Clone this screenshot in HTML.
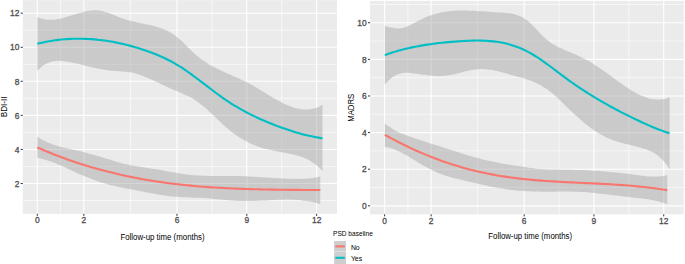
<!DOCTYPE html>
<html><head><meta charset="utf-8"><style>
html,body{margin:0;padding:0;background:#fff;}
body{width:685px;height:264px;overflow:hidden;}
svg{display:block;}
text{font-family:"Liberation Sans",sans-serif;}
.tk{font-size:8.4px;fill:#4d4d4d;font-weight:normal;stroke:#4d4d4d;stroke-width:0.3px;}
.ti{font-size:8.4px;fill:#000;}
.lt{font-size:7.2px;fill:#000;}
.lg{font-size:6.9px;fill:#000;}
</style></head><body>
<svg width="685" height="264" viewBox="0 0 685 264">
<rect x="22.80" y="0.15" width="314.20" height="213.65" fill="#ebebeb"/>
<line x1="22.80" x2="337.00" y1="200.52" y2="200.52" stroke="#fff" stroke-width="0.6"/>
<line x1="22.80" x2="337.00" y1="166.46" y2="166.46" stroke="#fff" stroke-width="0.6"/>
<line x1="22.80" x2="337.00" y1="132.40" y2="132.40" stroke="#fff" stroke-width="0.6"/>
<line x1="22.80" x2="337.00" y1="98.34" y2="98.34" stroke="#fff" stroke-width="0.6"/>
<line x1="22.80" x2="337.00" y1="64.28" y2="64.28" stroke="#fff" stroke-width="0.6"/>
<line x1="22.80" x2="337.00" y1="30.22" y2="30.22" stroke="#fff" stroke-width="0.6"/>
<line x1="60.58" x2="60.58" y1="0.15" y2="213.80" stroke="#fff" stroke-width="0.6"/>
<line x1="130.42" x2="130.42" y1="0.15" y2="213.80" stroke="#fff" stroke-width="0.6"/>
<line x1="211.90" x2="211.90" y1="0.15" y2="213.80" stroke="#fff" stroke-width="0.6"/>
<line x1="281.74" x2="281.74" y1="0.15" y2="213.80" stroke="#fff" stroke-width="0.6"/>
<line x1="22.80" x2="337.00" y1="183.49" y2="183.49" stroke="#fff" stroke-width="1.1"/>
<line x1="22.80" x2="337.00" y1="149.43" y2="149.43" stroke="#fff" stroke-width="1.1"/>
<line x1="22.80" x2="337.00" y1="115.37" y2="115.37" stroke="#fff" stroke-width="1.1"/>
<line x1="22.80" x2="337.00" y1="81.31" y2="81.31" stroke="#fff" stroke-width="1.1"/>
<line x1="22.80" x2="337.00" y1="47.25" y2="47.25" stroke="#fff" stroke-width="1.1"/>
<line x1="22.80" x2="337.00" y1="13.19" y2="13.19" stroke="#fff" stroke-width="1.1"/>
<line x1="37.30" x2="37.30" y1="0.15" y2="213.80" stroke="#fff" stroke-width="1.1"/>
<line x1="83.86" x2="83.86" y1="0.15" y2="213.80" stroke="#fff" stroke-width="1.1"/>
<line x1="176.98" x2="176.98" y1="0.15" y2="213.80" stroke="#fff" stroke-width="1.1"/>
<line x1="246.82" x2="246.82" y1="0.15" y2="213.80" stroke="#fff" stroke-width="1.1"/>
<line x1="316.66" x2="316.66" y1="0.15" y2="213.80" stroke="#fff" stroke-width="1.1"/>
<path d="M37.30,136.58 C37.80,136.91 39.31,137.94 40.31,138.56 C41.31,139.17 42.32,139.74 43.32,140.29 C44.32,140.83 45.33,141.32 46.33,141.80 C47.34,142.27 48.34,142.70 49.34,143.12 C50.35,143.53 51.35,143.91 52.35,144.27 C53.36,144.63 54.36,144.96 55.36,145.27 C56.37,145.59 57.37,145.88 58.37,146.16 C59.38,146.45 60.38,146.71 61.39,146.96 C62.39,147.22 63.39,147.46 64.40,147.69 C65.40,147.93 66.40,148.15 67.41,148.38 C68.41,148.61 69.41,148.83 70.42,149.05 C71.42,149.27 72.42,149.50 73.43,149.73 C74.43,149.95 75.43,150.18 76.44,150.42 C77.44,150.65 78.45,150.88 79.45,151.12 C80.45,151.36 81.46,151.60 82.46,151.85 C83.46,152.10 84.47,152.35 85.47,152.60 C86.47,152.86 87.48,153.12 88.48,153.38 C89.48,153.65 90.49,153.92 91.49,154.19 C92.50,154.47 93.50,154.75 94.50,155.03 C95.51,155.32 96.51,155.61 97.51,155.91 C98.52,156.21 99.52,156.51 100.52,156.82 C101.53,157.13 102.53,157.44 103.53,157.75 C104.54,158.06 105.54,158.38 106.54,158.69 C107.55,159.00 108.55,159.31 109.56,159.62 C110.56,159.93 111.56,160.24 112.57,160.55 C113.57,160.85 114.57,161.15 115.58,161.45 C116.58,161.74 117.58,162.03 118.59,162.31 C119.59,162.59 120.59,162.87 121.60,163.13 C122.60,163.39 123.60,163.65 124.61,163.89 C125.61,164.14 126.62,164.37 127.62,164.59 C128.62,164.81 129.63,165.02 130.63,165.22 C131.63,165.42 132.64,165.61 133.64,165.79 C134.64,165.98 135.65,166.15 136.65,166.32 C137.65,166.49 138.66,166.66 139.66,166.82 C140.67,166.98 141.67,167.13 142.67,167.28 C143.68,167.44 144.68,167.59 145.68,167.74 C146.69,167.89 147.69,168.04 148.69,168.19 C149.70,168.34 150.70,168.49 151.70,168.64 C152.71,168.80 153.71,168.95 154.71,169.11 C155.72,169.27 156.72,169.44 157.73,169.61 C158.73,169.78 159.73,169.95 160.74,170.12 C161.74,170.30 162.74,170.48 163.75,170.65 C164.75,170.83 165.75,171.01 166.76,171.19 C167.76,171.37 168.76,171.55 169.77,171.73 C170.77,171.91 171.78,172.08 172.78,172.26 C173.78,172.43 174.79,172.61 175.79,172.77 C176.79,172.94 177.80,173.11 178.80,173.27 C179.80,173.43 180.81,173.59 181.81,173.74 C182.81,173.89 183.82,174.03 184.82,174.17 C185.82,174.31 186.83,174.44 187.83,174.56 C188.84,174.68 189.84,174.80 190.84,174.90 C191.85,175.01 192.85,175.11 193.85,175.19 C194.86,175.28 195.86,175.35 196.86,175.42 C197.87,175.49 198.87,175.55 199.87,175.60 C200.88,175.65 201.88,175.69 202.89,175.73 C203.89,175.77 204.89,175.80 205.90,175.82 C206.90,175.85 207.90,175.87 208.91,175.88 C209.91,175.90 210.91,175.91 211.92,175.92 C212.92,175.92 213.92,175.93 214.93,175.93 C215.93,175.93 216.93,175.93 217.94,175.93 C218.94,175.93 219.95,175.92 220.95,175.92 C221.95,175.92 222.96,175.92 223.96,175.91 C224.96,175.91 225.97,175.91 226.97,175.91 C227.97,175.91 228.98,175.92 229.98,175.92 C230.98,175.93 231.99,175.94 232.99,175.95 C234.00,175.97 235.00,175.99 236.00,176.01 C237.01,176.03 238.01,176.06 239.01,176.09 C240.02,176.12 241.02,176.16 242.02,176.20 C243.03,176.24 244.03,176.28 245.03,176.33 C246.04,176.37 247.04,176.42 248.04,176.48 C249.05,176.53 250.05,176.58 251.06,176.64 C252.06,176.70 253.06,176.76 254.07,176.82 C255.07,176.88 256.07,176.94 257.08,177.01 C258.08,177.07 259.08,177.13 260.09,177.20 C261.09,177.26 262.09,177.33 263.10,177.40 C264.10,177.46 265.10,177.53 266.11,177.59 C267.11,177.66 268.12,177.72 269.12,177.79 C270.12,177.85 271.13,177.91 272.13,177.98 C273.13,178.04 274.14,178.10 275.14,178.15 C276.14,178.21 277.15,178.27 278.15,178.32 C279.15,178.37 280.16,178.42 281.16,178.47 C282.17,178.52 283.17,178.56 284.17,178.60 C285.18,178.64 286.18,178.68 287.18,178.71 C288.19,178.75 289.19,178.78 290.19,178.80 C291.20,178.82 292.20,178.84 293.20,178.86 C294.21,178.87 295.21,178.88 296.21,178.88 C297.22,178.89 298.22,178.89 299.23,178.87 C300.23,178.86 301.23,178.84 302.24,178.81 C303.24,178.77 304.24,178.73 305.25,178.67 C306.25,178.62 307.25,178.55 308.26,178.46 C309.26,178.37 310.26,178.27 311.27,178.14 C312.27,178.02 313.28,177.88 314.28,177.72 C315.28,177.55 316.29,177.37 317.29,177.16 C318.29,176.95 319.80,176.58 320.30,176.47 L320.30,204.08 C319.80,203.93 318.29,203.47 317.29,203.19 C316.29,202.91 315.28,202.66 314.28,202.42 C313.28,202.18 312.27,201.96 311.27,201.76 C310.26,201.56 309.26,201.37 308.26,201.20 C307.25,201.04 306.25,200.88 305.25,200.75 C304.24,200.61 303.24,200.48 302.24,200.38 C301.23,200.27 300.23,200.17 299.23,200.09 C298.22,200.00 297.22,199.94 296.21,199.88 C295.21,199.82 294.21,199.77 293.20,199.73 C292.20,199.70 291.20,199.67 290.19,199.65 C289.19,199.63 288.19,199.63 287.18,199.62 C286.18,199.62 285.18,199.63 284.17,199.65 C283.17,199.66 282.17,199.68 281.16,199.71 C280.16,199.73 279.15,199.77 278.15,199.80 C277.15,199.84 276.14,199.88 275.14,199.93 C274.14,199.97 273.13,200.02 272.13,200.07 C271.13,200.12 270.12,200.17 269.12,200.22 C268.12,200.28 267.11,200.33 266.11,200.38 C265.10,200.44 264.10,200.49 263.10,200.54 C262.09,200.59 261.09,200.65 260.09,200.69 C259.08,200.74 258.08,200.79 257.08,200.83 C256.07,200.87 255.07,200.91 254.07,200.95 C253.06,200.98 252.06,201.01 251.06,201.03 C250.05,201.05 249.05,201.07 248.04,201.08 C247.04,201.09 246.04,201.09 245.03,201.09 C244.03,201.08 243.03,201.07 242.02,201.04 C241.02,201.02 240.02,200.98 239.01,200.94 C238.01,200.90 237.01,200.84 236.00,200.78 C235.00,200.72 234.00,200.65 232.99,200.58 C231.99,200.50 230.98,200.42 229.98,200.33 C228.98,200.25 227.97,200.15 226.97,200.06 C225.97,199.97 224.96,199.87 223.96,199.77 C222.96,199.67 221.95,199.57 220.95,199.48 C219.95,199.38 218.94,199.28 217.94,199.18 C216.93,199.09 215.93,198.99 214.93,198.90 C213.92,198.81 212.92,198.72 211.92,198.64 C210.91,198.56 209.91,198.49 208.91,198.42 C207.90,198.35 206.90,198.29 205.90,198.23 C204.89,198.17 203.89,198.12 202.89,198.07 C201.88,198.02 200.88,197.98 199.87,197.93 C198.87,197.89 197.87,197.85 196.86,197.81 C195.86,197.77 194.86,197.73 193.85,197.69 C192.85,197.65 191.85,197.62 190.84,197.58 C189.84,197.54 188.84,197.50 187.83,197.45 C186.83,197.41 185.82,197.36 184.82,197.31 C183.82,197.26 182.81,197.21 181.81,197.15 C180.81,197.10 179.80,197.03 178.80,196.96 C177.80,196.90 176.79,196.82 175.79,196.74 C174.79,196.66 173.78,196.57 172.78,196.47 C171.78,196.37 170.77,196.27 169.77,196.15 C168.76,196.04 167.76,195.91 166.76,195.78 C165.75,195.65 164.75,195.51 163.75,195.36 C162.74,195.21 161.74,195.06 160.74,194.90 C159.73,194.74 158.73,194.57 157.73,194.40 C156.72,194.22 155.72,194.05 154.71,193.87 C153.71,193.69 152.71,193.50 151.70,193.31 C150.70,193.13 149.70,192.93 148.69,192.74 C147.69,192.55 146.69,192.36 145.68,192.16 C144.68,191.97 143.68,191.77 142.67,191.58 C141.67,191.38 140.67,191.19 139.66,191.00 C138.66,190.80 137.65,190.61 136.65,190.42 C135.65,190.23 134.64,190.05 133.64,189.86 C132.64,189.67 131.63,189.48 130.63,189.30 C129.63,189.11 128.62,188.92 127.62,188.73 C126.62,188.54 125.61,188.34 124.61,188.15 C123.60,187.95 122.60,187.75 121.60,187.54 C120.59,187.34 119.59,187.13 118.59,186.91 C117.58,186.70 116.58,186.48 115.58,186.25 C114.57,186.02 113.57,185.78 112.57,185.54 C111.56,185.29 110.56,185.04 109.56,184.78 C108.55,184.52 107.55,184.24 106.54,183.96 C105.54,183.68 104.54,183.38 103.53,183.08 C102.53,182.78 101.53,182.46 100.52,182.14 C99.52,181.82 98.52,181.48 97.51,181.14 C96.51,180.80 95.51,180.44 94.50,180.08 C93.50,179.72 92.50,179.35 91.49,178.97 C90.49,178.59 89.48,178.20 88.48,177.81 C87.48,177.41 86.47,177.00 85.47,176.59 C84.47,176.18 83.46,175.76 82.46,175.33 C81.46,174.90 80.45,174.46 79.45,174.01 C78.45,173.57 77.44,173.12 76.44,172.66 C75.43,172.20 74.43,171.73 73.43,171.27 C72.42,170.80 71.42,170.33 70.42,169.86 C69.41,169.39 68.41,168.92 67.41,168.46 C66.40,167.99 65.40,167.52 64.40,167.07 C63.39,166.61 62.39,166.15 61.39,165.71 C60.38,165.27 59.38,164.83 58.37,164.40 C57.37,163.98 56.37,163.56 55.36,163.16 C54.36,162.76 53.36,162.38 52.35,162.01 C51.35,161.64 50.35,161.28 49.34,160.95 C48.34,160.61 47.34,160.30 46.33,160.01 C45.33,159.71 44.32,159.44 43.32,159.20 C42.32,158.95 41.31,158.73 40.31,158.54 C39.31,158.34 37.80,158.13 37.30,158.04 Z" fill="#999999" fill-opacity="0.4"/>
<path d="M37.30,17.03 C37.80,17.24 39.30,17.92 40.30,18.26 C41.30,18.61 42.30,18.89 43.30,19.12 C44.30,19.35 45.31,19.52 46.31,19.64 C47.31,19.76 48.31,19.83 49.31,19.85 C50.31,19.88 51.31,19.86 52.31,19.80 C53.31,19.74 54.31,19.64 55.31,19.51 C56.31,19.38 57.31,19.22 58.31,19.03 C59.32,18.84 60.32,18.61 61.32,18.38 C62.32,18.14 63.32,17.87 64.32,17.60 C65.32,17.32 66.32,17.02 67.32,16.72 C68.32,16.42 69.32,16.10 70.32,15.78 C71.32,15.47 72.32,15.14 73.33,14.82 C74.33,14.50 75.33,14.18 76.33,13.87 C77.33,13.56 78.33,13.25 79.33,12.96 C80.33,12.67 81.33,12.39 82.33,12.13 C83.33,11.87 84.33,11.62 85.33,11.41 C86.33,11.19 87.34,11.00 88.34,10.84 C89.34,10.68 90.34,10.54 91.34,10.45 C92.34,10.35 93.34,10.29 94.34,10.27 C95.34,10.26 96.34,10.28 97.34,10.35 C98.34,10.43 99.34,10.55 100.34,10.72 C101.34,10.89 102.35,11.12 103.35,11.38 C104.35,11.64 105.35,11.96 106.35,12.29 C107.35,12.62 108.35,12.99 109.35,13.37 C110.35,13.74 111.35,14.15 112.35,14.55 C113.35,14.95 114.35,15.37 115.35,15.77 C116.36,16.17 117.36,16.57 118.36,16.95 C119.36,17.33 120.36,17.69 121.36,18.04 C122.36,18.39 123.36,18.72 124.36,19.04 C125.36,19.36 126.36,19.66 127.36,19.95 C128.36,20.24 129.36,20.52 130.37,20.79 C131.37,21.05 132.37,21.31 133.37,21.56 C134.37,21.80 135.37,22.04 136.37,22.27 C137.37,22.50 138.37,22.71 139.37,22.93 C140.37,23.14 141.37,23.35 142.37,23.55 C143.37,23.75 144.38,23.95 145.38,24.15 C146.38,24.35 147.38,24.55 148.38,24.76 C149.38,24.97 150.38,25.19 151.38,25.42 C152.38,25.64 153.38,25.88 154.38,26.14 C155.38,26.40 156.38,26.66 157.38,26.96 C158.38,27.26 159.39,27.57 160.39,27.92 C161.39,28.26 162.39,28.63 163.39,29.03 C164.39,29.44 165.39,29.87 166.39,30.34 C167.39,30.82 168.39,31.32 169.39,31.88 C170.39,32.43 171.39,33.02 172.39,33.67 C173.40,34.31 174.40,35.00 175.40,35.74 C176.40,36.48 177.40,37.28 178.40,38.13 C179.40,38.98 180.40,39.89 181.40,40.82 C182.40,41.76 183.40,42.74 184.40,43.73 C185.40,44.71 186.40,45.74 187.41,46.74 C188.41,47.74 189.41,48.76 190.41,49.74 C191.41,50.73 192.41,51.71 193.41,52.64 C194.41,53.57 195.41,54.47 196.41,55.32 C197.41,56.17 198.41,56.98 199.41,57.76 C200.41,58.54 201.42,59.28 202.42,59.99 C203.42,60.70 204.42,61.37 205.42,62.02 C206.42,62.68 207.42,63.30 208.42,63.90 C209.42,64.50 210.42,65.07 211.42,65.63 C212.42,66.19 213.42,66.73 214.42,67.26 C215.42,67.78 216.43,68.29 217.43,68.79 C218.43,69.29 219.43,69.77 220.43,70.25 C221.43,70.73 222.43,71.19 223.43,71.65 C224.43,72.11 225.43,72.56 226.43,73.00 C227.43,73.45 228.43,73.89 229.43,74.33 C230.44,74.77 231.44,75.21 232.44,75.64 C233.44,76.08 234.44,76.52 235.44,76.96 C236.44,77.41 237.44,77.85 238.44,78.30 C239.44,78.76 240.44,79.21 241.44,79.68 C242.44,80.15 243.44,80.62 244.45,81.11 C245.45,81.59 246.45,82.09 247.45,82.60 C248.45,83.11 249.45,83.64 250.45,84.18 C251.45,84.72 252.45,85.28 253.45,85.85 C254.45,86.42 255.45,87.00 256.45,87.59 C257.45,88.18 258.46,88.79 259.46,89.39 C260.46,90.00 261.46,90.61 262.46,91.22 C263.46,91.84 264.46,92.46 265.46,93.07 C266.46,93.69 267.46,94.31 268.46,94.92 C269.46,95.53 270.46,96.14 271.46,96.74 C272.46,97.34 273.47,97.93 274.47,98.51 C275.47,99.10 276.47,99.67 277.47,100.23 C278.47,100.78 279.47,101.33 280.47,101.86 C281.47,102.38 282.47,102.89 283.47,103.38 C284.47,103.87 285.47,104.34 286.47,104.78 C287.48,105.23 288.48,105.65 289.48,106.05 C290.48,106.44 291.48,106.81 292.48,107.14 C293.48,107.48 294.48,107.79 295.48,108.06 C296.48,108.33 297.48,108.57 298.48,108.77 C299.48,108.97 300.48,109.14 301.49,109.26 C302.49,109.39 303.49,109.48 304.49,109.52 C305.49,109.56 306.49,109.56 307.49,109.50 C308.49,109.45 309.49,109.36 310.49,109.21 C311.49,109.07 312.49,108.87 313.49,108.62 C314.49,108.37 315.50,108.07 316.50,107.71 C317.50,107.35 318.50,106.93 319.50,106.46 C320.50,105.98 322.00,105.11 322.50,104.84 L322.50,171.12 C322.00,170.60 320.50,168.93 319.50,167.95 C318.50,166.96 317.50,166.06 316.50,165.22 C315.50,164.38 314.49,163.62 313.49,162.90 C312.49,162.19 311.49,161.55 310.49,160.95 C309.49,160.35 308.49,159.81 307.49,159.31 C306.49,158.81 305.49,158.36 304.49,157.94 C303.49,157.53 302.49,157.15 301.49,156.80 C300.48,156.46 299.48,156.14 298.48,155.85 C297.48,155.55 296.48,155.29 295.48,155.03 C294.48,154.78 293.48,154.54 292.48,154.31 C291.48,154.08 290.48,153.87 289.48,153.66 C288.48,153.46 287.48,153.26 286.47,153.07 C285.47,152.88 284.47,152.69 283.47,152.51 C282.47,152.32 281.47,152.15 280.47,151.96 C279.47,151.78 278.47,151.60 277.47,151.42 C276.47,151.23 275.47,151.05 274.47,150.85 C273.47,150.66 272.46,150.46 271.46,150.25 C270.46,150.04 269.46,149.82 268.46,149.59 C267.46,149.35 266.46,149.11 265.46,148.85 C264.46,148.58 263.46,148.31 262.46,148.01 C261.46,147.71 260.46,147.40 259.46,147.06 C258.46,146.73 257.45,146.37 256.45,145.99 C255.45,145.61 254.45,145.21 253.45,144.78 C252.45,144.36 251.45,143.91 250.45,143.44 C249.45,142.98 248.45,142.48 247.45,141.97 C246.45,141.45 245.45,140.92 244.45,140.35 C243.44,139.79 242.44,139.21 241.44,138.60 C240.44,137.99 239.44,137.36 238.44,136.70 C237.44,136.04 236.44,135.36 235.44,134.65 C234.44,133.94 233.44,133.21 232.44,132.45 C231.44,131.69 230.44,130.90 229.43,130.09 C228.43,129.28 227.43,128.45 226.43,127.58 C225.43,126.72 224.43,125.83 223.43,124.92 C222.43,124.01 221.43,123.07 220.43,122.12 C219.43,121.18 218.43,120.21 217.43,119.25 C216.43,118.29 215.42,117.31 214.42,116.35 C213.42,115.39 212.42,114.42 211.42,113.47 C210.42,112.53 209.42,111.58 208.42,110.67 C207.42,109.75 206.42,108.85 205.42,107.99 C204.42,107.12 203.42,106.29 202.42,105.48 C201.42,104.68 200.41,103.91 199.41,103.17 C198.41,102.43 197.41,101.72 196.41,101.05 C195.41,100.37 194.41,99.73 193.41,99.11 C192.41,98.50 191.41,97.92 190.41,97.36 C189.41,96.81 188.41,96.29 187.41,95.79 C186.40,95.29 185.40,94.83 184.40,94.38 C183.40,93.92 182.40,93.50 181.40,93.07 C180.40,92.65 179.40,92.24 178.40,91.83 C177.40,91.42 176.40,91.01 175.40,90.60 C174.40,90.18 173.40,89.76 172.39,89.33 C171.39,88.89 170.39,88.45 169.39,87.99 C168.39,87.54 167.39,87.08 166.39,86.61 C165.39,86.14 164.39,85.67 163.39,85.19 C162.39,84.72 161.39,84.24 160.39,83.76 C159.39,83.28 158.38,82.80 157.38,82.32 C156.38,81.84 155.38,81.37 154.38,80.90 C153.38,80.43 152.38,79.97 151.38,79.51 C150.38,79.05 149.38,78.60 148.38,78.17 C147.38,77.73 146.38,77.30 145.38,76.89 C144.38,76.48 143.37,76.08 142.37,75.70 C141.37,75.32 140.37,74.96 139.37,74.63 C138.37,74.30 137.37,73.98 136.37,73.70 C135.37,73.42 134.37,73.16 133.37,72.94 C132.37,72.71 131.37,72.52 130.37,72.36 C129.36,72.19 128.36,72.05 127.36,71.93 C126.36,71.81 125.36,71.71 124.36,71.62 C123.36,71.53 122.36,71.46 121.36,71.38 C120.36,71.31 119.36,71.25 118.36,71.19 C117.36,71.13 116.36,71.07 115.35,71.00 C114.35,70.93 113.35,70.86 112.35,70.77 C111.35,70.68 110.35,70.58 109.35,70.47 C108.35,70.35 107.35,70.22 106.35,70.08 C105.35,69.93 104.35,69.77 103.35,69.61 C102.35,69.44 101.34,69.26 100.34,69.07 C99.34,68.88 98.34,68.68 97.34,68.47 C96.34,68.26 95.34,68.05 94.34,67.82 C93.34,67.60 92.34,67.37 91.34,67.14 C90.34,66.91 89.34,66.67 88.34,66.44 C87.34,66.20 86.33,65.95 85.33,65.71 C84.33,65.47 83.33,65.23 82.33,64.99 C81.33,64.74 80.33,64.50 79.33,64.27 C78.33,64.03 77.33,63.79 76.33,63.56 C75.33,63.33 74.33,63.11 73.33,62.89 C72.32,62.67 71.32,62.45 70.32,62.25 C69.32,62.05 68.32,61.85 67.32,61.68 C66.32,61.50 65.32,61.34 64.32,61.21 C63.32,61.09 62.32,60.98 61.32,60.92 C60.32,60.85 59.32,60.82 58.31,60.84 C57.31,60.86 56.31,60.91 55.31,61.03 C54.31,61.15 53.31,61.31 52.31,61.55 C51.31,61.78 50.31,62.07 49.31,62.45 C48.31,62.82 47.31,63.25 46.31,63.78 C45.31,64.30 44.30,64.90 43.30,65.59 C42.30,66.29 41.30,67.06 40.30,67.95 C39.30,68.83 37.80,70.41 37.30,70.90 Z" fill="#999999" fill-opacity="0.4"/>
<path d="M37.30,147.46 C37.80,147.68 39.31,148.34 40.31,148.77 C41.31,149.21 42.32,149.63 43.32,150.06 C44.32,150.48 45.33,150.90 46.33,151.32 C47.34,151.73 48.34,152.14 49.34,152.55 C50.35,152.95 51.35,153.36 52.35,153.75 C53.36,154.15 54.36,154.55 55.36,154.93 C56.37,155.32 57.37,155.71 58.37,156.09 C59.38,156.47 60.38,156.85 61.39,157.22 C62.39,157.59 63.39,157.96 64.40,158.33 C65.40,158.69 66.40,159.05 67.41,159.41 C68.41,159.76 69.41,160.12 70.42,160.46 C71.42,160.81 72.42,161.16 73.43,161.50 C74.43,161.84 75.43,162.17 76.44,162.51 C77.44,162.84 78.45,163.17 79.45,163.49 C80.45,163.81 81.46,164.14 82.46,164.45 C83.46,164.77 84.47,165.08 85.47,165.39 C86.47,165.70 87.48,166.01 88.48,166.31 C89.48,166.61 90.49,166.91 91.49,167.20 C92.50,167.49 93.50,167.78 94.50,168.07 C95.51,168.36 96.51,168.64 97.51,168.92 C98.52,169.20 99.52,169.47 100.52,169.75 C101.53,170.02 102.53,170.29 103.53,170.55 C104.54,170.82 105.54,171.08 106.54,171.34 C107.55,171.59 108.55,171.85 109.56,172.10 C110.56,172.35 111.56,172.60 112.57,172.84 C113.57,173.09 114.57,173.33 115.58,173.56 C116.58,173.80 117.58,174.03 118.59,174.26 C119.59,174.49 120.59,174.72 121.60,174.95 C122.60,175.17 123.60,175.39 124.61,175.61 C125.61,175.82 126.62,176.04 127.62,176.25 C128.62,176.46 129.63,176.67 130.63,176.87 C131.63,177.07 132.64,177.28 133.64,177.47 C134.64,177.67 135.65,177.87 136.65,178.06 C137.65,178.25 138.66,178.44 139.66,178.62 C140.67,178.81 141.67,178.99 142.67,179.17 C143.68,179.35 144.68,179.53 145.68,179.70 C146.69,179.87 147.69,180.04 148.69,180.21 C149.70,180.38 150.70,180.54 151.70,180.71 C152.71,180.87 153.71,181.03 154.71,181.18 C155.72,181.34 156.72,181.49 157.73,181.64 C158.73,181.79 159.73,181.94 160.74,182.08 C161.74,182.23 162.74,182.37 163.75,182.51 C164.75,182.65 165.75,182.79 166.76,182.92 C167.76,183.05 168.76,183.19 169.77,183.31 C170.77,183.44 171.78,183.57 172.78,183.69 C173.78,183.82 174.79,183.94 175.79,184.06 C176.79,184.17 177.80,184.29 178.80,184.40 C179.80,184.52 180.81,184.63 181.81,184.74 C182.81,184.85 183.82,184.95 184.82,185.06 C185.82,185.16 186.83,185.26 187.83,185.36 C188.84,185.46 189.84,185.56 190.84,185.65 C191.85,185.75 192.85,185.84 193.85,185.93 C194.86,186.02 195.86,186.11 196.86,186.20 C197.87,186.28 198.87,186.37 199.87,186.45 C200.88,186.53 201.88,186.61 202.89,186.69 C203.89,186.77 204.89,186.84 205.90,186.92 C206.90,186.99 207.90,187.07 208.91,187.14 C209.91,187.21 210.91,187.28 211.92,187.34 C212.92,187.41 213.92,187.47 214.93,187.54 C215.93,187.60 216.93,187.66 217.94,187.72 C218.94,187.78 219.95,187.84 220.95,187.90 C221.95,187.95 222.96,188.01 223.96,188.06 C224.96,188.11 225.97,188.16 226.97,188.21 C227.97,188.26 228.98,188.31 229.98,188.36 C230.98,188.41 231.99,188.45 232.99,188.50 C234.00,188.54 235.00,188.58 236.00,188.62 C237.01,188.67 238.01,188.71 239.01,188.74 C240.02,188.78 241.02,188.82 242.02,188.86 C243.03,188.89 244.03,188.93 245.03,188.96 C246.04,188.99 247.04,189.03 248.04,189.06 C249.05,189.09 250.05,189.12 251.06,189.15 C252.06,189.18 253.06,189.20 254.07,189.23 C255.07,189.26 256.07,189.28 257.08,189.31 C258.08,189.33 259.08,189.36 260.09,189.38 C261.09,189.40 262.09,189.42 263.10,189.44 C264.10,189.46 265.10,189.48 266.11,189.50 C267.11,189.52 268.12,189.54 269.12,189.56 C270.12,189.58 271.13,189.59 272.13,189.61 C273.13,189.63 274.14,189.64 275.14,189.66 C276.14,189.67 277.15,189.69 278.15,189.70 C279.15,189.71 280.16,189.73 281.16,189.74 C282.17,189.75 283.17,189.76 284.17,189.77 C285.18,189.79 286.18,189.80 287.18,189.81 C288.19,189.82 289.19,189.83 290.19,189.84 C291.20,189.85 292.20,189.86 293.20,189.87 C294.21,189.87 295.21,189.88 296.21,189.89 C297.22,189.90 298.22,189.91 299.23,189.92 C300.23,189.92 301.23,189.93 302.24,189.94 C303.24,189.95 304.24,189.95 305.25,189.96 C306.25,189.97 307.25,189.98 308.26,189.98 C309.26,189.99 310.26,190.00 311.27,190.00 C312.27,190.01 313.28,190.02 314.28,190.03 C315.28,190.03 316.29,190.04 317.29,190.05 C318.29,190.06 319.80,190.07 320.30,190.07" fill="none" stroke="#F8766D" stroke-width="2.1" stroke-linecap="butt"/>
<path d="M37.30,43.81 C37.80,43.69 39.30,43.32 40.30,43.08 C41.30,42.85 42.30,42.63 43.30,42.41 C44.30,42.20 45.31,41.99 46.31,41.80 C47.31,41.60 48.31,41.42 49.31,41.24 C50.31,41.07 51.31,40.90 52.31,40.74 C53.31,40.59 54.31,40.44 55.31,40.30 C56.31,40.16 57.31,40.03 58.31,39.91 C59.32,39.79 60.32,39.68 61.32,39.58 C62.32,39.48 63.32,39.39 64.32,39.30 C65.32,39.22 66.32,39.14 67.32,39.08 C68.32,39.01 69.32,38.96 70.32,38.91 C71.32,38.86 72.32,38.82 73.33,38.79 C74.33,38.76 75.33,38.74 76.33,38.73 C77.33,38.71 78.33,38.71 79.33,38.71 C80.33,38.72 81.33,38.73 82.33,38.75 C83.33,38.77 84.33,38.80 85.33,38.84 C86.33,38.88 87.34,38.92 88.34,38.98 C89.34,39.03 90.34,39.10 91.34,39.17 C92.34,39.24 93.34,39.32 94.34,39.40 C95.34,39.49 96.34,39.59 97.34,39.69 C98.34,39.79 99.34,39.90 100.34,40.02 C101.34,40.14 102.35,40.27 103.35,40.40 C104.35,40.54 105.35,40.68 106.35,40.83 C107.35,40.98 108.35,41.14 109.35,41.30 C110.35,41.47 111.35,41.64 112.35,41.82 C113.35,42.00 114.35,42.19 115.35,42.39 C116.36,42.58 117.36,42.79 118.36,43.00 C119.36,43.21 120.36,43.43 121.36,43.65 C122.36,43.88 123.36,44.11 124.36,44.35 C125.36,44.59 126.36,44.83 127.36,45.09 C128.36,45.34 129.36,45.60 130.37,45.87 C131.37,46.13 132.37,46.41 133.37,46.69 C134.37,46.97 135.37,47.26 136.37,47.55 C137.37,47.85 138.37,48.15 139.37,48.46 C140.37,48.77 141.37,49.08 142.37,49.40 C143.37,49.73 144.38,50.06 145.38,50.40 C146.38,50.74 147.38,51.08 148.38,51.44 C149.38,51.80 150.38,52.16 151.38,52.54 C152.38,52.92 153.38,53.30 154.38,53.70 C155.38,54.09 156.38,54.50 157.38,54.92 C158.38,55.34 159.39,55.76 160.39,56.21 C161.39,56.65 162.39,57.10 163.39,57.57 C164.39,58.03 165.39,58.51 166.39,59.00 C167.39,59.49 168.39,60.00 169.39,60.52 C170.39,61.04 171.39,61.57 172.39,62.12 C173.40,62.67 174.40,63.23 175.40,63.81 C176.40,64.39 177.40,64.98 178.40,65.59 C179.40,66.20 180.40,66.83 181.40,67.47 C182.40,68.11 183.40,68.77 184.40,69.44 C185.40,70.11 186.40,70.80 187.41,71.50 C188.41,72.19 189.41,72.91 190.41,73.62 C191.41,74.34 192.41,75.07 193.41,75.81 C194.41,76.54 195.41,77.29 196.41,78.04 C197.41,78.79 198.41,79.55 199.41,80.31 C200.41,81.07 201.42,81.83 202.42,82.60 C203.42,83.36 204.42,84.13 205.42,84.90 C206.42,85.67 207.42,86.44 208.42,87.20 C209.42,87.97 210.42,88.73 211.42,89.49 C212.42,90.25 213.42,91.01 214.42,91.76 C215.42,92.51 216.43,93.25 217.43,93.99 C218.43,94.72 219.43,95.45 220.43,96.17 C221.43,96.89 222.43,97.59 223.43,98.29 C224.43,98.99 225.43,99.68 226.43,100.35 C227.43,101.03 228.43,101.70 229.43,102.35 C230.44,103.01 231.44,103.65 232.44,104.28 C233.44,104.91 234.44,105.53 235.44,106.14 C236.44,106.75 237.44,107.34 238.44,107.92 C239.44,108.51 240.44,109.08 241.44,109.64 C242.44,110.20 243.44,110.75 244.45,111.29 C245.45,111.83 246.45,112.36 247.45,112.88 C248.45,113.40 249.45,113.91 250.45,114.41 C251.45,114.91 252.45,115.40 253.45,115.88 C254.45,116.37 255.45,116.84 256.45,117.31 C257.45,117.77 258.46,118.23 259.46,118.69 C260.46,119.14 261.46,119.58 262.46,120.02 C263.46,120.46 264.46,120.89 265.46,121.32 C266.46,121.74 267.46,122.16 268.46,122.58 C269.46,122.99 270.46,123.40 271.46,123.80 C272.46,124.20 273.47,124.60 274.47,124.99 C275.47,125.38 276.47,125.76 277.47,126.14 C278.47,126.51 279.47,126.89 280.47,127.25 C281.47,127.61 282.47,127.97 283.47,128.32 C284.47,128.67 285.47,129.02 286.47,129.35 C287.48,129.69 288.48,130.02 289.48,130.35 C290.48,130.67 291.48,130.99 292.48,131.30 C293.48,131.61 294.48,131.91 295.48,132.20 C296.48,132.50 297.48,132.79 298.48,133.07 C299.48,133.35 300.48,133.62 301.49,133.89 C302.49,134.16 303.49,134.42 304.49,134.67 C305.49,134.92 306.49,135.16 307.49,135.40 C308.49,135.64 309.49,135.86 310.49,136.08 C311.49,136.31 312.49,136.52 313.49,136.72 C314.49,136.93 315.50,137.12 316.50,137.31 C317.50,137.50 318.50,137.68 319.50,137.86 C320.50,138.03 322.00,138.27 322.50,138.35" fill="none" stroke="#00BFC4" stroke-width="2.1" stroke-linecap="butt"/>
<line x1="20.70" x2="22.80" y1="183.49" y2="183.49" stroke="#333333" stroke-width="1"/>
<text x="19.30" y="186.69" text-anchor="end" class="tk">2</text>
<line x1="20.70" x2="22.80" y1="149.43" y2="149.43" stroke="#333333" stroke-width="1"/>
<text x="19.30" y="152.63" text-anchor="end" class="tk">4</text>
<line x1="20.70" x2="22.80" y1="115.37" y2="115.37" stroke="#333333" stroke-width="1"/>
<text x="19.30" y="118.57" text-anchor="end" class="tk">6</text>
<line x1="20.70" x2="22.80" y1="81.31" y2="81.31" stroke="#333333" stroke-width="1"/>
<text x="19.30" y="84.51" text-anchor="end" class="tk">8</text>
<line x1="20.70" x2="22.80" y1="47.25" y2="47.25" stroke="#333333" stroke-width="1"/>
<text x="19.30" y="50.45" text-anchor="end" class="tk">10</text>
<line x1="20.70" x2="22.80" y1="13.19" y2="13.19" stroke="#333333" stroke-width="1"/>
<text x="19.30" y="16.39" text-anchor="end" class="tk">12</text>
<line x1="37.30" x2="37.30" y1="213.80" y2="215.90" stroke="#333333" stroke-width="1"/>
<text x="37.30" y="223.10" text-anchor="middle" class="tk">0</text>
<line x1="83.86" x2="83.86" y1="213.80" y2="215.90" stroke="#333333" stroke-width="1"/>
<text x="83.86" y="223.10" text-anchor="middle" class="tk">2</text>
<line x1="176.98" x2="176.98" y1="213.80" y2="215.90" stroke="#333333" stroke-width="1"/>
<text x="176.98" y="223.10" text-anchor="middle" class="tk">6</text>
<line x1="246.82" x2="246.82" y1="213.80" y2="215.90" stroke="#333333" stroke-width="1"/>
<text x="246.82" y="223.10" text-anchor="middle" class="tk">9</text>
<line x1="316.66" x2="316.66" y1="213.80" y2="215.90" stroke="#333333" stroke-width="1"/>
<text x="316.66" y="223.10" text-anchor="middle" class="tk">12</text>
<rect x="370.10" y="0.95" width="313.65" height="213.35" fill="#ebebeb"/>
<line x1="370.10" x2="683.75" y1="187.52" y2="187.52" stroke="#fff" stroke-width="0.6"/>
<line x1="370.10" x2="683.75" y1="150.90" y2="150.90" stroke="#fff" stroke-width="0.6"/>
<line x1="370.10" x2="683.75" y1="114.28" y2="114.28" stroke="#fff" stroke-width="0.6"/>
<line x1="370.10" x2="683.75" y1="77.66" y2="77.66" stroke="#fff" stroke-width="0.6"/>
<line x1="370.10" x2="683.75" y1="41.04" y2="41.04" stroke="#fff" stroke-width="0.6"/>
<line x1="370.10" x2="683.75" y1="4.42" y2="4.42" stroke="#fff" stroke-width="0.6"/>
<line x1="407.86" x2="407.86" y1="0.95" y2="214.30" stroke="#fff" stroke-width="0.6"/>
<line x1="477.64" x2="477.64" y1="0.95" y2="214.30" stroke="#fff" stroke-width="0.6"/>
<line x1="559.05" x2="559.05" y1="0.95" y2="214.30" stroke="#fff" stroke-width="0.6"/>
<line x1="628.83" x2="628.83" y1="0.95" y2="214.30" stroke="#fff" stroke-width="0.6"/>
<line x1="370.10" x2="683.75" y1="205.83" y2="205.83" stroke="#fff" stroke-width="1.1"/>
<line x1="370.10" x2="683.75" y1="169.21" y2="169.21" stroke="#fff" stroke-width="1.1"/>
<line x1="370.10" x2="683.75" y1="132.59" y2="132.59" stroke="#fff" stroke-width="1.1"/>
<line x1="370.10" x2="683.75" y1="95.97" y2="95.97" stroke="#fff" stroke-width="1.1"/>
<line x1="370.10" x2="683.75" y1="59.35" y2="59.35" stroke="#fff" stroke-width="1.1"/>
<line x1="370.10" x2="683.75" y1="22.73" y2="22.73" stroke="#fff" stroke-width="1.1"/>
<line x1="384.60" x2="384.60" y1="0.95" y2="214.30" stroke="#fff" stroke-width="1.1"/>
<line x1="431.12" x2="431.12" y1="0.95" y2="214.30" stroke="#fff" stroke-width="1.1"/>
<line x1="524.16" x2="524.16" y1="0.95" y2="214.30" stroke="#fff" stroke-width="1.1"/>
<line x1="593.94" x2="593.94" y1="0.95" y2="214.30" stroke="#fff" stroke-width="1.1"/>
<line x1="663.72" x2="663.72" y1="0.95" y2="214.30" stroke="#fff" stroke-width="1.1"/>
<path d="M384.80,123.43 C385.30,123.82 386.80,125.03 387.81,125.76 C388.81,126.49 389.81,127.17 390.81,127.81 C391.81,128.46 392.81,129.06 393.82,129.63 C394.82,130.20 395.82,130.73 396.82,131.24 C397.82,131.75 398.82,132.22 399.83,132.68 C400.83,133.14 401.83,133.56 402.83,133.97 C403.83,134.39 404.84,134.78 405.84,135.16 C406.84,135.54 407.84,135.91 408.84,136.27 C409.84,136.63 410.85,136.98 411.85,137.33 C412.85,137.67 413.85,138.02 414.85,138.36 C415.85,138.70 416.86,139.03 417.86,139.36 C418.86,139.69 419.86,140.02 420.86,140.35 C421.87,140.67 422.87,140.99 423.87,141.31 C424.87,141.64 425.87,141.95 426.87,142.27 C427.88,142.59 428.88,142.90 429.88,143.22 C430.88,143.53 431.88,143.85 432.89,144.16 C433.89,144.48 434.89,144.79 435.89,145.10 C436.89,145.42 437.89,145.73 438.90,146.05 C439.90,146.37 440.90,146.68 441.90,147.00 C442.90,147.32 443.90,147.64 444.91,147.96 C445.91,148.29 446.91,148.61 447.91,148.93 C448.91,149.25 449.92,149.57 450.92,149.90 C451.92,150.22 452.92,150.54 453.92,150.86 C454.92,151.18 455.93,151.50 456.93,151.82 C457.93,152.14 458.93,152.45 459.93,152.77 C460.93,153.08 461.94,153.39 462.94,153.70 C463.94,154.01 464.94,154.32 465.94,154.63 C466.95,154.93 467.95,155.23 468.95,155.53 C469.95,155.83 470.95,156.12 471.95,156.41 C472.96,156.70 473.96,156.99 474.96,157.27 C475.96,157.55 476.96,157.83 477.96,158.10 C478.97,158.38 479.97,158.64 480.97,158.90 C481.97,159.16 482.97,159.42 483.98,159.67 C484.98,159.92 485.98,160.16 486.98,160.40 C487.98,160.63 488.98,160.86 489.99,161.08 C490.99,161.31 491.99,161.52 492.99,161.73 C493.99,161.94 495.00,162.14 496.00,162.33 C497.00,162.53 498.00,162.72 499.00,162.91 C500.00,163.09 501.01,163.27 502.01,163.45 C503.01,163.62 504.01,163.79 505.01,163.96 C506.01,164.13 507.02,164.29 508.02,164.46 C509.02,164.62 510.02,164.78 511.02,164.93 C512.03,165.09 513.03,165.24 514.03,165.40 C515.03,165.55 516.03,165.70 517.03,165.86 C518.04,166.01 519.04,166.16 520.04,166.31 C521.04,166.46 522.04,166.62 523.04,166.77 C524.05,166.92 525.05,167.08 526.05,167.23 C527.05,167.38 528.05,167.53 529.06,167.68 C530.06,167.82 531.06,167.97 532.06,168.10 C533.06,168.24 534.06,168.37 535.07,168.49 C536.07,168.60 537.07,168.72 538.07,168.82 C539.07,168.91 540.07,169.00 541.08,169.08 C542.08,169.15 543.08,169.21 544.08,169.26 C545.08,169.32 546.09,169.36 547.09,169.39 C548.09,169.43 549.09,169.45 550.09,169.48 C551.09,169.50 552.10,169.51 553.10,169.53 C554.10,169.54 555.10,169.55 556.10,169.56 C557.10,169.57 558.11,169.58 559.11,169.59 C560.11,169.60 561.11,169.61 562.11,169.63 C563.12,169.64 564.12,169.66 565.12,169.68 C566.12,169.70 567.12,169.71 568.12,169.74 C569.13,169.76 570.13,169.78 571.13,169.81 C572.13,169.83 573.13,169.86 574.14,169.89 C575.14,169.92 576.14,169.95 577.14,169.98 C578.14,170.02 579.14,170.05 580.15,170.09 C581.15,170.13 582.15,170.17 583.15,170.21 C584.15,170.25 585.15,170.30 586.16,170.34 C587.16,170.39 588.16,170.44 589.16,170.49 C590.16,170.54 591.17,170.59 592.17,170.65 C593.17,170.71 594.17,170.77 595.17,170.83 C596.17,170.89 597.18,170.95 598.18,171.02 C599.18,171.08 600.18,171.15 601.18,171.23 C602.18,171.30 603.19,171.37 604.19,171.45 C605.19,171.53 606.19,171.61 607.19,171.69 C608.20,171.77 609.20,171.86 610.20,171.94 C611.20,172.03 612.20,172.12 613.20,172.22 C614.21,172.31 615.21,172.41 616.21,172.51 C617.21,172.61 618.21,172.71 619.21,172.82 C620.22,172.93 621.22,173.04 622.22,173.15 C623.22,173.26 624.22,173.38 625.23,173.50 C626.23,173.62 627.23,173.74 628.23,173.87 C629.23,173.99 630.23,174.12 631.24,174.26 C632.24,174.39 633.24,174.53 634.24,174.66 C635.24,174.80 636.25,174.95 637.25,175.08 C638.25,175.22 639.25,175.36 640.25,175.49 C641.25,175.62 642.26,175.75 643.26,175.87 C644.26,175.99 645.26,176.10 646.26,176.20 C647.26,176.29 648.27,176.38 649.27,176.45 C650.27,176.52 651.27,176.57 652.27,176.61 C653.28,176.64 654.28,176.66 655.28,176.65 C656.28,176.64 657.28,176.61 658.28,176.55 C659.29,176.49 660.29,176.41 661.29,176.29 C662.29,176.18 663.29,176.04 664.29,175.86 C665.30,175.68 666.80,175.33 667.30,175.22 L667.30,204.26 C666.80,204.07 665.30,203.49 664.29,203.15 C663.29,202.80 662.29,202.48 661.29,202.18 C660.29,201.89 659.29,201.61 658.28,201.36 C657.28,201.10 656.28,200.86 655.28,200.64 C654.28,200.42 653.28,200.22 652.27,200.04 C651.27,199.85 650.27,199.68 649.27,199.51 C648.27,199.35 647.26,199.20 646.26,199.06 C645.26,198.92 644.26,198.79 643.26,198.66 C642.26,198.54 641.25,198.42 640.25,198.31 C639.25,198.19 638.25,198.08 637.25,197.97 C636.25,197.86 635.24,197.75 634.24,197.64 C633.24,197.53 632.24,197.42 631.24,197.31 C630.23,197.20 629.23,197.08 628.23,196.96 C627.23,196.85 626.23,196.73 625.23,196.61 C624.22,196.48 623.22,196.36 622.22,196.24 C621.22,196.12 620.22,195.99 619.21,195.87 C618.21,195.75 617.21,195.62 616.21,195.50 C615.21,195.37 614.21,195.25 613.20,195.13 C612.20,195.00 611.20,194.88 610.20,194.76 C609.20,194.64 608.20,194.52 607.19,194.40 C606.19,194.28 605.19,194.17 604.19,194.05 C603.19,193.94 602.18,193.82 601.18,193.71 C600.18,193.60 599.18,193.50 598.18,193.39 C597.18,193.29 596.17,193.19 595.17,193.09 C594.17,192.99 593.17,192.90 592.17,192.81 C591.17,192.72 590.16,192.63 589.16,192.55 C588.16,192.47 587.16,192.39 586.16,192.32 C585.15,192.25 584.15,192.18 583.15,192.12 C582.15,192.06 581.15,192.00 580.15,191.95 C579.14,191.90 578.14,191.86 577.14,191.82 C576.14,191.78 575.14,191.75 574.14,191.73 C573.13,191.70 572.13,191.68 571.13,191.66 C570.13,191.64 569.13,191.63 568.12,191.62 C567.12,191.62 566.12,191.61 565.12,191.61 C564.12,191.61 563.12,191.61 562.11,191.61 C561.11,191.61 560.11,191.62 559.11,191.62 C558.11,191.63 557.10,191.64 556.10,191.64 C555.10,191.65 554.10,191.66 553.10,191.67 C552.10,191.67 551.09,191.68 550.09,191.68 C549.09,191.69 548.09,191.69 547.09,191.69 C546.09,191.69 545.08,191.69 544.08,191.69 C543.08,191.69 542.08,191.68 541.08,191.67 C540.07,191.66 539.07,191.64 538.07,191.62 C537.07,191.60 536.07,191.58 535.07,191.55 C534.06,191.52 533.06,191.49 532.06,191.45 C531.06,191.41 530.06,191.37 529.06,191.32 C528.05,191.27 527.05,191.22 526.05,191.16 C525.05,191.10 524.05,191.04 523.04,190.97 C522.04,190.90 521.04,190.82 520.04,190.74 C519.04,190.66 518.04,190.57 517.03,190.48 C516.03,190.39 515.03,190.29 514.03,190.18 C513.03,190.08 512.03,189.97 511.02,189.85 C510.02,189.73 509.02,189.60 508.02,189.47 C507.02,189.34 506.01,189.20 505.01,189.06 C504.01,188.91 503.01,188.76 502.01,188.60 C501.01,188.44 500.00,188.27 499.00,188.10 C498.00,187.92 497.00,187.74 496.00,187.56 C495.00,187.38 493.99,187.18 492.99,186.99 C491.99,186.79 490.99,186.59 489.99,186.39 C488.98,186.18 487.98,185.97 486.98,185.76 C485.98,185.55 484.98,185.33 483.98,185.11 C482.97,184.89 481.97,184.67 480.97,184.44 C479.97,184.22 478.97,183.99 477.96,183.76 C476.96,183.53 475.96,183.30 474.96,183.06 C473.96,182.83 472.96,182.59 471.95,182.36 C470.95,182.12 469.95,181.88 468.95,181.65 C467.95,181.41 466.95,181.17 465.94,180.94 C464.94,180.70 463.94,180.46 462.94,180.23 C461.94,179.99 460.93,179.75 459.93,179.51 C458.93,179.27 457.93,179.03 456.93,178.78 C455.93,178.53 454.92,178.28 453.92,178.02 C452.92,177.75 451.92,177.48 450.92,177.20 C449.92,176.92 448.91,176.63 447.91,176.33 C446.91,176.02 445.91,175.71 444.91,175.38 C443.90,175.05 442.90,174.70 441.90,174.34 C440.90,173.97 439.90,173.59 438.90,173.19 C437.89,172.79 436.89,172.37 435.89,171.93 C434.89,171.49 433.89,171.02 432.89,170.54 C431.88,170.05 430.88,169.54 429.88,169.02 C428.88,168.49 427.88,167.95 426.87,167.39 C425.87,166.84 424.87,166.27 423.87,165.69 C422.87,165.11 421.87,164.52 420.86,163.93 C419.86,163.34 418.86,162.73 417.86,162.13 C416.86,161.53 415.85,160.92 414.85,160.32 C413.85,159.72 412.85,159.11 411.85,158.51 C410.85,157.92 409.84,157.32 408.84,156.74 C407.84,156.16 406.84,155.58 405.84,155.02 C404.84,154.46 403.83,153.91 402.83,153.38 C401.83,152.85 400.83,152.34 399.83,151.85 C398.82,151.37 397.82,150.90 396.82,150.47 C395.82,150.03 394.82,149.62 393.82,149.25 C392.81,148.88 391.81,148.54 390.81,148.24 C389.81,147.94 388.81,147.68 387.81,147.47 C386.80,147.25 385.30,147.04 384.80,146.95 Z" fill="#999999" fill-opacity="0.4"/>
<path d="M384.80,25.65 C385.30,25.82 386.82,26.35 387.83,26.66 C388.84,26.97 389.85,27.26 390.86,27.50 C391.87,27.75 392.88,27.96 393.89,28.11 C394.90,28.27 395.91,28.38 396.92,28.43 C397.93,28.47 398.94,28.47 399.95,28.38 C400.96,28.30 401.97,28.15 402.98,27.92 C403.99,27.69 405.00,27.37 406.01,27.01 C407.02,26.65 408.03,26.21 409.04,25.75 C410.05,25.29 411.06,24.77 412.07,24.25 C413.08,23.73 414.09,23.16 415.10,22.61 C416.11,22.06 417.12,21.49 418.13,20.95 C419.14,20.42 420.15,19.88 421.16,19.38 C422.17,18.88 423.18,18.41 424.19,17.96 C425.20,17.51 426.21,17.09 427.22,16.69 C428.23,16.29 429.24,15.91 430.25,15.55 C431.26,15.20 432.27,14.87 433.28,14.56 C434.29,14.24 435.30,13.96 436.31,13.69 C437.32,13.42 438.33,13.17 439.34,12.94 C440.35,12.71 441.36,12.49 442.37,12.30 C443.38,12.11 444.39,11.93 445.40,11.77 C446.41,11.62 447.42,11.47 448.43,11.35 C449.44,11.22 450.45,11.11 451.46,11.02 C452.47,10.92 453.48,10.84 454.49,10.77 C455.50,10.71 456.50,10.65 457.51,10.61 C458.52,10.57 459.53,10.54 460.54,10.52 C461.55,10.51 462.56,10.50 463.57,10.50 C464.58,10.51 465.59,10.52 466.60,10.54 C467.61,10.56 468.62,10.59 469.63,10.63 C470.64,10.67 471.65,10.71 472.66,10.76 C473.67,10.81 474.68,10.87 475.69,10.93 C476.70,10.99 477.71,11.06 478.72,11.13 C479.73,11.19 480.74,11.27 481.75,11.34 C482.76,11.41 483.77,11.49 484.78,11.57 C485.79,11.64 486.80,11.72 487.81,11.80 C488.82,11.87 489.83,11.95 490.84,12.02 C491.85,12.09 492.86,12.16 493.87,12.23 C494.88,12.30 495.89,12.36 496.90,12.42 C497.91,12.48 498.92,12.53 499.93,12.59 C500.94,12.65 501.95,12.70 502.96,12.77 C503.97,12.83 504.98,12.90 505.99,13.00 C507.00,13.09 508.01,13.20 509.02,13.34 C510.03,13.48 511.04,13.63 512.05,13.84 C513.06,14.04 514.07,14.26 515.08,14.54 C516.09,14.82 517.10,15.14 518.11,15.51 C519.12,15.89 520.13,16.30 521.14,16.79 C522.15,17.27 523.16,17.81 524.17,18.43 C525.18,19.04 526.19,19.72 527.20,20.48 C528.21,21.24 529.22,22.08 530.23,22.99 C531.24,23.90 532.25,24.91 533.26,25.94 C534.27,26.97 535.28,28.08 536.29,29.16 C537.30,30.25 538.31,31.39 539.32,32.47 C540.33,33.56 541.34,34.66 542.35,35.68 C543.36,36.70 544.37,37.70 545.38,38.61 C546.39,39.51 547.40,40.34 548.41,41.11 C549.42,41.88 550.43,42.58 551.44,43.24 C552.45,43.90 553.46,44.49 554.47,45.06 C555.48,45.63 556.49,46.15 557.50,46.66 C558.51,47.16 559.52,47.63 560.53,48.10 C561.54,48.56 562.55,49.01 563.56,49.45 C564.57,49.89 565.58,50.32 566.59,50.75 C567.60,51.18 568.61,51.59 569.62,52.02 C570.63,52.44 571.64,52.86 572.65,53.29 C573.66,53.72 574.67,54.15 575.68,54.59 C576.69,55.03 577.70,55.48 578.71,55.94 C579.72,56.41 580.73,56.88 581.74,57.38 C582.75,57.88 583.76,58.40 584.77,58.93 C585.78,59.47 586.79,60.02 587.80,60.60 C588.81,61.17 589.82,61.76 590.83,62.37 C591.84,62.98 592.85,63.61 593.86,64.25 C594.87,64.89 595.88,65.54 596.89,66.21 C597.90,66.88 598.90,67.57 599.91,68.26 C600.92,68.95 601.93,69.66 602.94,70.38 C603.95,71.09 604.96,71.82 605.97,72.55 C606.98,73.28 607.99,74.02 609.00,74.76 C610.01,75.50 611.02,76.25 612.03,76.99 C613.04,77.73 614.05,78.48 615.06,79.22 C616.07,79.96 617.08,80.69 618.09,81.42 C619.10,82.15 620.11,82.88 621.12,83.59 C622.13,84.30 623.14,85.01 624.15,85.69 C625.16,86.38 626.17,87.06 627.18,87.72 C628.19,88.38 629.20,89.03 630.21,89.66 C631.22,90.28 632.23,90.89 633.24,91.47 C634.25,92.05 635.26,92.62 636.27,93.15 C637.28,93.69 638.29,94.20 639.30,94.68 C640.31,95.16 641.32,95.62 642.33,96.04 C643.34,96.46 644.35,96.85 645.36,97.20 C646.37,97.55 647.38,97.87 648.39,98.15 C649.40,98.43 650.41,98.68 651.42,98.88 C652.43,99.08 653.44,99.24 654.45,99.35 C655.46,99.47 656.47,99.54 657.48,99.56 C658.49,99.58 659.50,99.56 660.51,99.48 C661.52,99.40 662.53,99.28 663.54,99.10 C664.55,98.91 665.56,98.68 666.57,98.39 C667.58,98.09 669.10,97.51 669.60,97.33 L669.60,169.38 C669.10,168.63 667.58,166.25 666.57,164.86 C665.56,163.48 664.55,162.22 663.54,161.06 C662.53,159.90 661.52,158.86 660.51,157.90 C659.50,156.95 658.49,156.09 657.48,155.31 C656.47,154.53 655.46,153.84 654.45,153.21 C653.44,152.57 652.43,152.02 651.42,151.51 C650.41,151.00 649.40,150.56 648.39,150.15 C647.38,149.75 646.37,149.39 645.36,149.06 C644.35,148.72 643.34,148.43 642.33,148.14 C641.32,147.85 640.31,147.59 639.30,147.33 C638.29,147.07 637.28,146.82 636.27,146.57 C635.26,146.32 634.25,146.08 633.24,145.83 C632.23,145.59 631.22,145.35 630.21,145.10 C629.20,144.86 628.19,144.61 627.18,144.36 C626.17,144.11 625.16,143.85 624.15,143.59 C623.14,143.32 622.13,143.05 621.12,142.76 C620.11,142.48 619.10,142.18 618.09,141.87 C617.08,141.56 616.07,141.23 615.06,140.89 C614.05,140.55 613.04,140.19 612.03,139.80 C611.02,139.42 610.01,139.02 609.00,138.60 C607.99,138.17 606.98,137.72 605.97,137.24 C604.96,136.77 603.95,136.26 602.94,135.73 C601.93,135.20 600.92,134.63 599.91,134.04 C598.90,133.45 597.90,132.83 596.89,132.18 C595.88,131.53 594.87,130.86 593.86,130.16 C592.85,129.46 591.84,128.74 590.83,127.99 C589.82,127.25 588.81,126.48 587.80,125.69 C586.79,124.90 585.78,124.09 584.77,123.26 C583.76,122.43 582.75,121.58 581.74,120.72 C580.73,119.85 579.72,118.97 578.71,118.07 C577.70,117.17 576.69,116.26 575.68,115.34 C574.67,114.41 573.66,113.47 572.65,112.52 C571.64,111.57 570.63,110.61 569.62,109.64 C568.61,108.67 567.60,107.69 566.59,106.70 C565.58,105.72 564.57,104.72 563.56,103.73 C562.55,102.75 561.54,101.76 560.53,100.79 C559.52,99.82 558.51,98.85 557.50,97.91 C556.49,96.98 555.48,96.05 554.47,95.16 C553.46,94.27 552.45,93.40 551.44,92.58 C550.43,91.75 549.42,90.96 548.41,90.22 C547.40,89.47 546.39,88.77 545.38,88.10 C544.37,87.44 543.36,86.81 542.35,86.22 C541.34,85.62 540.33,85.06 539.32,84.53 C538.31,84.00 537.30,83.51 536.29,83.03 C535.28,82.56 534.27,82.12 533.26,81.70 C532.25,81.28 531.24,80.89 530.23,80.51 C529.22,80.13 528.21,79.78 527.20,79.44 C526.19,79.10 525.18,78.78 524.17,78.47 C523.16,78.16 522.15,77.86 521.14,77.57 C520.13,77.28 519.12,77.00 518.11,76.72 C517.10,76.44 516.09,76.17 515.08,75.89 C514.07,75.61 513.06,75.34 512.05,75.05 C511.04,74.77 510.03,74.49 509.02,74.20 C508.01,73.92 507.00,73.63 505.99,73.35 C504.98,73.07 503.97,72.79 502.96,72.52 C501.95,72.25 500.94,71.98 499.93,71.73 C498.92,71.48 497.91,71.24 496.90,71.01 C495.89,70.78 494.88,70.57 493.87,70.38 C492.86,70.18 491.85,70.00 490.84,69.85 C489.83,69.69 488.82,69.56 487.81,69.45 C486.80,69.34 485.79,69.26 484.78,69.20 C483.77,69.14 482.76,69.11 481.75,69.11 C480.74,69.10 479.73,69.13 478.72,69.18 C477.71,69.23 476.70,69.30 475.69,69.41 C474.68,69.52 473.67,69.65 472.66,69.82 C471.65,69.98 470.64,70.18 469.63,70.39 C468.62,70.60 467.61,70.84 466.60,71.09 C465.59,71.34 464.58,71.60 463.57,71.87 C462.56,72.14 461.55,72.41 460.54,72.68 C459.53,72.95 458.52,73.23 457.51,73.49 C456.50,73.75 455.50,74.00 454.49,74.23 C453.48,74.47 452.47,74.69 451.46,74.88 C450.45,75.07 449.44,75.23 448.43,75.37 C447.42,75.51 446.41,75.62 445.40,75.70 C444.39,75.79 443.38,75.85 442.37,75.89 C441.36,75.93 440.35,75.95 439.34,75.95 C438.33,75.95 437.32,75.93 436.31,75.89 C435.30,75.86 434.29,75.80 433.28,75.74 C432.27,75.67 431.26,75.59 430.25,75.49 C429.24,75.40 428.23,75.29 427.22,75.18 C426.21,75.07 425.20,74.94 424.19,74.81 C423.18,74.68 422.17,74.54 421.16,74.40 C420.15,74.26 419.14,74.11 418.13,73.96 C417.12,73.82 416.11,73.66 415.10,73.52 C414.09,73.39 413.08,73.25 412.07,73.14 C411.06,73.04 410.05,72.94 409.04,72.90 C408.03,72.85 407.02,72.82 406.01,72.86 C405.00,72.89 403.99,72.96 402.98,73.11 C401.97,73.25 400.96,73.44 399.95,73.71 C398.94,73.98 397.93,74.32 396.92,74.75 C395.91,75.18 394.90,75.68 393.89,76.29 C392.88,76.90 391.87,77.60 390.86,78.42 C389.85,79.24 388.84,80.15 387.83,81.20 C386.82,82.25 385.30,84.13 384.80,84.72 Z" fill="#999999" fill-opacity="0.4"/>
<path d="M384.80,134.81 C385.30,135.08 386.80,135.91 387.81,136.46 C388.81,137.00 389.81,137.54 390.81,138.08 C391.81,138.61 392.81,139.14 393.82,139.67 C394.82,140.19 395.82,140.71 396.82,141.23 C397.82,141.74 398.82,142.25 399.83,142.76 C400.83,143.26 401.83,143.76 402.83,144.26 C403.83,144.75 404.84,145.24 405.84,145.73 C406.84,146.21 407.84,146.69 408.84,147.17 C409.84,147.64 410.85,148.11 411.85,148.58 C412.85,149.04 413.85,149.50 414.85,149.95 C415.85,150.41 416.86,150.86 417.86,151.30 C418.86,151.74 419.86,152.18 420.86,152.62 C421.87,153.05 422.87,153.48 423.87,153.90 C424.87,154.32 425.87,154.74 426.87,155.15 C427.88,155.56 428.88,155.97 429.88,156.37 C430.88,156.77 431.88,157.16 432.89,157.55 C433.89,157.94 434.89,158.33 435.89,158.71 C436.89,159.09 437.89,159.46 438.90,159.83 C439.90,160.20 440.90,160.56 441.90,160.92 C442.90,161.28 443.90,161.63 444.91,161.97 C445.91,162.32 446.91,162.66 447.91,163.00 C448.91,163.33 449.92,163.66 450.92,163.99 C451.92,164.31 452.92,164.63 453.92,164.95 C454.92,165.26 455.93,165.57 456.93,165.87 C457.93,166.18 458.93,166.48 459.93,166.77 C460.93,167.06 461.94,167.35 462.94,167.64 C463.94,167.92 464.94,168.20 465.94,168.47 C466.95,168.74 467.95,169.01 468.95,169.27 C469.95,169.54 470.95,169.80 471.95,170.05 C472.96,170.30 473.96,170.55 474.96,170.79 C475.96,171.03 476.96,171.27 477.96,171.51 C478.97,171.74 479.97,171.97 480.97,172.19 C481.97,172.41 482.97,172.63 483.98,172.84 C484.98,173.06 485.98,173.27 486.98,173.47 C487.98,173.67 488.98,173.87 489.99,174.07 C490.99,174.26 491.99,174.45 492.99,174.63 C493.99,174.82 495.00,175.00 496.00,175.18 C497.00,175.35 498.00,175.52 499.00,175.69 C500.00,175.86 501.01,176.02 502.01,176.18 C503.01,176.34 504.01,176.49 505.01,176.64 C506.01,176.79 507.02,176.94 508.02,177.08 C509.02,177.22 510.02,177.36 511.02,177.50 C512.03,177.63 513.03,177.76 514.03,177.89 C515.03,178.02 516.03,178.14 517.03,178.26 C518.04,178.39 519.04,178.50 520.04,178.62 C521.04,178.73 522.04,178.84 523.04,178.95 C524.05,179.06 525.05,179.16 526.05,179.27 C527.05,179.37 528.05,179.47 529.06,179.56 C530.06,179.66 531.06,179.75 532.06,179.84 C533.06,179.93 534.06,180.02 535.07,180.11 C536.07,180.19 537.07,180.28 538.07,180.36 C539.07,180.44 540.07,180.52 541.08,180.59 C542.08,180.67 543.08,180.75 544.08,180.82 C545.08,180.89 546.09,180.96 547.09,181.03 C548.09,181.10 549.09,181.16 550.09,181.23 C551.09,181.29 552.10,181.36 553.10,181.42 C554.10,181.48 555.10,181.54 556.10,181.60 C557.10,181.66 558.11,181.72 559.11,181.77 C560.11,181.83 561.11,181.88 562.11,181.94 C563.12,181.99 564.12,182.05 565.12,182.10 C566.12,182.15 567.12,182.20 568.12,182.25 C569.13,182.30 570.13,182.35 571.13,182.40 C572.13,182.45 573.13,182.50 574.14,182.54 C575.14,182.59 576.14,182.64 577.14,182.68 C578.14,182.73 579.14,182.78 580.15,182.82 C581.15,182.87 582.15,182.92 583.15,182.96 C584.15,183.01 585.15,183.06 586.16,183.10 C587.16,183.15 588.16,183.19 589.16,183.24 C590.16,183.29 591.17,183.34 592.17,183.38 C593.17,183.43 594.17,183.48 595.17,183.53 C596.17,183.58 597.18,183.62 598.18,183.67 C599.18,183.72 600.18,183.77 601.18,183.83 C602.18,183.88 603.19,183.93 604.19,183.98 C605.19,184.04 606.19,184.09 607.19,184.15 C608.20,184.20 609.20,184.26 610.20,184.32 C611.20,184.38 612.20,184.44 613.20,184.50 C614.21,184.56 615.21,184.62 616.21,184.69 C617.21,184.75 618.21,184.82 619.21,184.88 C620.22,184.95 621.22,185.02 622.22,185.09 C623.22,185.17 624.22,185.24 625.23,185.32 C626.23,185.39 627.23,185.47 628.23,185.55 C629.23,185.63 630.23,185.71 631.24,185.80 C632.24,185.88 633.24,185.97 634.24,186.06 C635.24,186.15 636.25,186.24 637.25,186.34 C638.25,186.43 639.25,186.53 640.25,186.63 C641.25,186.73 642.26,186.84 643.26,186.94 C644.26,187.05 645.26,187.16 646.26,187.27 C647.26,187.39 648.27,187.50 649.27,187.62 C650.27,187.74 651.27,187.87 652.27,187.99 C653.28,188.12 654.28,188.25 655.28,188.38 C656.28,188.52 657.28,188.65 658.28,188.80 C659.29,188.94 660.29,189.08 661.29,189.23 C662.29,189.38 663.29,189.53 664.29,189.69 C665.30,189.85 666.80,190.09 667.30,190.17" fill="none" stroke="#F8766D" stroke-width="2.1" stroke-linecap="butt"/>
<path d="M384.80,55.12 C385.30,54.94 386.82,54.40 387.83,54.05 C388.84,53.71 389.85,53.37 390.86,53.04 C391.87,52.71 392.88,52.40 393.89,52.09 C394.90,51.78 395.91,51.47 396.91,51.18 C397.92,50.89 398.93,50.60 399.94,50.33 C400.95,50.05 401.96,49.78 402.97,49.52 C403.98,49.26 404.99,49.01 406.00,48.77 C407.01,48.52 408.02,48.29 409.03,48.06 C410.04,47.83 411.05,47.60 412.06,47.39 C413.07,47.17 414.08,46.96 415.09,46.76 C416.10,46.56 417.11,46.36 418.12,46.18 C419.13,45.99 420.14,45.80 421.14,45.63 C422.15,45.45 423.16,45.28 424.17,45.12 C425.18,44.95 426.19,44.79 427.20,44.64 C428.21,44.49 429.22,44.34 430.23,44.20 C431.24,44.05 432.25,43.92 433.26,43.78 C434.27,43.65 435.28,43.52 436.29,43.40 C437.30,43.28 438.31,43.16 439.32,43.04 C440.33,42.93 441.34,42.82 442.35,42.72 C443.36,42.61 444.36,42.51 445.37,42.41 C446.38,42.31 447.39,42.22 448.40,42.13 C449.41,42.04 450.42,41.95 451.43,41.86 C452.44,41.78 453.45,41.70 454.46,41.62 C455.47,41.54 456.48,41.47 457.49,41.39 C458.50,41.32 459.51,41.25 460.52,41.18 C461.53,41.11 462.54,41.05 463.55,40.99 C464.56,40.93 465.57,40.88 466.58,40.83 C467.59,40.78 468.59,40.73 469.60,40.69 C470.61,40.65 471.62,40.62 472.63,40.59 C473.64,40.57 474.65,40.55 475.66,40.54 C476.67,40.53 477.68,40.53 478.69,40.53 C479.70,40.54 480.71,40.55 481.72,40.58 C482.73,40.60 483.74,40.64 484.75,40.68 C485.76,40.73 486.77,40.78 487.78,40.85 C488.79,40.92 489.80,40.99 490.81,41.08 C491.81,41.18 492.82,41.28 493.83,41.40 C494.84,41.51 495.85,41.64 496.86,41.79 C497.87,41.93 498.88,42.09 499.89,42.27 C500.90,42.44 501.91,42.63 502.92,42.84 C503.93,43.04 504.94,43.26 505.95,43.50 C506.96,43.74 507.97,44.00 508.98,44.27 C509.99,44.54 511.00,44.84 512.01,45.15 C513.02,45.46 514.03,45.79 515.04,46.14 C516.04,46.48 517.05,46.85 518.06,47.24 C519.07,47.63 520.08,48.04 521.09,48.48 C522.10,48.91 523.11,49.36 524.12,49.84 C525.13,50.31 526.14,50.81 527.15,51.33 C528.16,51.86 529.17,52.40 530.18,52.97 C531.19,53.54 532.20,54.13 533.21,54.74 C534.22,55.34 535.23,55.97 536.24,56.62 C537.25,57.26 538.26,57.93 539.26,58.60 C540.27,59.28 541.28,59.97 542.29,60.68 C543.30,61.38 544.31,62.10 545.32,62.82 C546.33,63.54 547.34,64.28 548.35,65.02 C549.36,65.76 550.37,66.51 551.38,67.27 C552.39,68.02 553.40,68.78 554.41,69.54 C555.42,70.30 556.43,71.07 557.44,71.83 C558.45,72.59 559.46,73.36 560.47,74.12 C561.48,74.88 562.49,75.64 563.49,76.39 C564.50,77.15 565.51,77.90 566.52,78.64 C567.53,79.38 568.54,80.11 569.55,80.84 C570.56,81.56 571.57,82.28 572.58,82.99 C573.59,83.70 574.60,84.40 575.61,85.10 C576.62,85.79 577.63,86.48 578.64,87.16 C579.65,87.83 580.66,88.51 581.67,89.17 C582.68,89.84 583.69,90.49 584.70,91.14 C585.71,91.80 586.71,92.44 587.72,93.08 C588.73,93.72 589.74,94.35 590.75,94.97 C591.76,95.60 592.77,96.22 593.78,96.83 C594.79,97.45 595.80,98.05 596.81,98.65 C597.82,99.26 598.83,99.85 599.84,100.44 C600.85,101.04 601.86,101.62 602.87,102.20 C603.88,102.78 604.89,103.36 605.90,103.93 C606.91,104.50 607.92,105.06 608.93,105.62 C609.94,106.18 610.94,106.74 611.95,107.29 C612.96,107.84 613.97,108.38 614.98,108.92 C615.99,109.46 617.00,110.00 618.01,110.53 C619.02,111.06 620.03,111.59 621.04,112.11 C622.05,112.63 623.06,113.15 624.07,113.66 C625.08,114.17 626.09,114.68 627.10,115.18 C628.11,115.69 629.12,116.19 630.13,116.68 C631.14,117.18 632.15,117.67 633.16,118.16 C634.16,118.64 635.17,119.13 636.18,119.61 C637.19,120.08 638.20,120.56 639.21,121.03 C640.22,121.50 641.23,121.97 642.24,122.43 C643.25,122.90 644.26,123.35 645.27,123.81 C646.28,124.26 647.29,124.71 648.30,125.15 C649.31,125.59 650.32,126.02 651.33,126.45 C652.34,126.88 653.35,127.30 654.36,127.72 C655.37,128.14 656.38,128.54 657.39,128.94 C658.39,129.35 659.40,129.74 660.41,130.12 C661.42,130.51 662.43,130.89 663.44,131.25 C664.45,131.62 665.46,131.98 666.47,132.33 C667.48,132.68 669.00,133.18 669.50,133.35" fill="none" stroke="#00BFC4" stroke-width="2.1" stroke-linecap="butt"/>
<line x1="368.00" x2="370.10" y1="205.83" y2="205.83" stroke="#333333" stroke-width="1"/>
<text x="366.60" y="209.03" text-anchor="end" class="tk">0</text>
<line x1="368.00" x2="370.10" y1="169.21" y2="169.21" stroke="#333333" stroke-width="1"/>
<text x="366.60" y="172.41" text-anchor="end" class="tk">2</text>
<line x1="368.00" x2="370.10" y1="132.59" y2="132.59" stroke="#333333" stroke-width="1"/>
<text x="366.60" y="135.79" text-anchor="end" class="tk">4</text>
<line x1="368.00" x2="370.10" y1="95.97" y2="95.97" stroke="#333333" stroke-width="1"/>
<text x="366.60" y="99.17" text-anchor="end" class="tk">6</text>
<line x1="368.00" x2="370.10" y1="59.35" y2="59.35" stroke="#333333" stroke-width="1"/>
<text x="366.60" y="62.55" text-anchor="end" class="tk">8</text>
<line x1="368.00" x2="370.10" y1="22.73" y2="22.73" stroke="#333333" stroke-width="1"/>
<text x="366.60" y="25.93" text-anchor="end" class="tk">10</text>
<line x1="384.60" x2="384.60" y1="214.30" y2="216.40" stroke="#333333" stroke-width="1"/>
<text x="384.60" y="223.60" text-anchor="middle" class="tk">0</text>
<line x1="431.12" x2="431.12" y1="214.30" y2="216.40" stroke="#333333" stroke-width="1"/>
<text x="431.12" y="223.60" text-anchor="middle" class="tk">2</text>
<line x1="524.16" x2="524.16" y1="214.30" y2="216.40" stroke="#333333" stroke-width="1"/>
<text x="524.16" y="223.60" text-anchor="middle" class="tk">6</text>
<line x1="593.94" x2="593.94" y1="214.30" y2="216.40" stroke="#333333" stroke-width="1"/>
<text x="593.94" y="223.60" text-anchor="middle" class="tk">9</text>
<line x1="663.72" x2="663.72" y1="214.30" y2="216.40" stroke="#333333" stroke-width="1"/>
<text x="663.72" y="223.60" text-anchor="middle" class="tk">12</text>
<text x="120.40" y="239.80" class="ti" textLength="84.20" lengthAdjust="spacingAndGlyphs">Follow-up time (months)</text>
<text x="488.30" y="239.00" class="ti" textLength="83.80" lengthAdjust="spacingAndGlyphs">Follow-up time (months)</text>
<text transform="translate(7.0,106.9) rotate(-90)" x="-10.3" class="ti" textLength="20.6" lengthAdjust="spacingAndGlyphs">BDI-II</text>
<text transform="translate(354.2,107.85) rotate(-90)" x="-13.95" class="ti" textLength="27.9" lengthAdjust="spacingAndGlyphs">MADRS</text>
<text x="333.00" y="235.90" class="lt" textLength="39.90" lengthAdjust="spacingAndGlyphs">PSD baseline</text>
<rect x="334.1" y="241" width="11.9" height="10.6" fill="#f2f2f2"/>
<rect x="334.1" y="241" width="11.9" height="10.6" fill="#999999" fill-opacity="0.4"/>
<rect x="334.1" y="252.0" width="11.9" height="12" fill="#f2f2f2"/>
<rect x="334.1" y="252.0" width="11.9" height="12" fill="#999999" fill-opacity="0.4"/>
<line x1="335.3" x2="344.8" y1="246.4" y2="246.4" stroke="#F8766D" stroke-width="2.1"/>
<line x1="335.3" x2="344.8" y1="257.8" y2="257.8" stroke="#00BFC4" stroke-width="2.1"/>
<text x="350.9" y="250.3" class="lg">No</text>
<text x="350.9" y="261.2" class="lg">Yes</text>
</svg>
</body></html>
